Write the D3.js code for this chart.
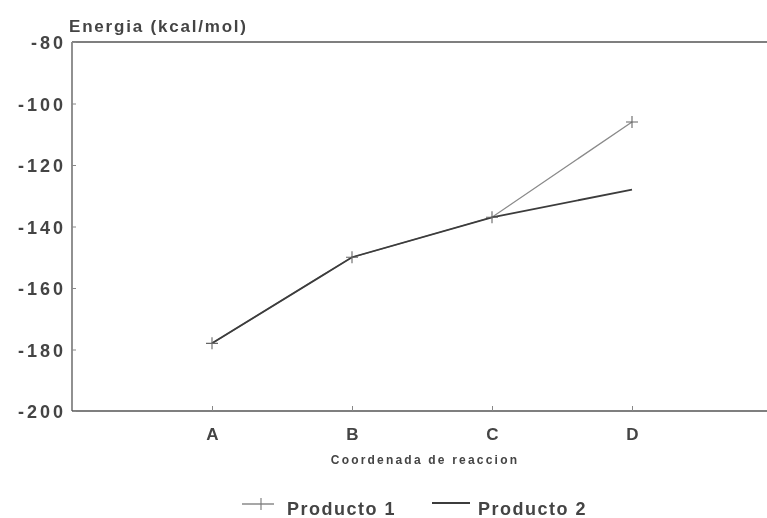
<!DOCTYPE html>
<html>
<head>
<meta charset="utf-8">
<script src="https://cdn.jsdelivr.net/npm/d3@7"></script>
<style>
  html, body { margin: 0; padding: 0; background: #fff; }
  svg { display: block; font-family: "Liberation Sans", Arial, sans-serif; }
</style>
</head>
<body>
<svg id="chart" width="767" height="518"></svg>
<script>
// Reaction coordinate stages and energies (kcal/mol)
const stages = ["A", "B", "C", "D"];
const producto1 = [-178, -150, -137, -106];
const producto2 = [-178, -150, -137, -128];
const yTicks = [-80, -100, -120, -140, -160, -180, -200];

const svg = d3.select("#chart");
const plotLeft = 72, plotTop = 42, plotBottom = 411, plotRight = 772;

const x = d3.scalePoint().domain(["", ...stages, " "]).range([plotLeft, plotRight]);
const y = d3.scaleLinear().domain([-200, -80]).range([plotBottom, plotTop]);

const g = svg.append("g").style("filter", "blur(0.35px)");
const ink = "#444";

// frame: left, top and bottom edges
g.append("line").attr("x1", plotLeft).attr("x2", plotLeft).attr("y1", plotTop).attr("y2", plotBottom)
  .attr("stroke", "#555").attr("stroke-width", 1.3);
g.append("line").attr("x1", plotLeft).attr("x2", plotRight).attr("y1", plotTop).attr("y2", plotTop)
  .attr("stroke", "#555").attr("stroke-width", 1.3);
g.append("line").attr("x1", plotLeft).attr("x2", plotRight).attr("y1", plotBottom).attr("y2", plotBottom)
  .attr("stroke", "#555").attr("stroke-width", 1.3);

// y axis ticks and labels (plain hyphen for negatives)
const yAxis = d3.axisLeft(y).tickValues(yTicks).tickSize(-4)
  .tickFormat(d => String(d));
const ya = g.append("g").attr("transform", `translate(${plotLeft},0)`).call(yAxis);
ya.select(".domain").remove();
ya.selectAll(".tick line").attr("stroke", "#888");
ya.selectAll(".tick text").attr("fill", ink).attr("font-size", 18)
  .attr("font-weight", "bold").attr("letter-spacing", 3)
  .attr("dy", "0.38em").attr("x", -6);

// x axis ticks and labels
const xAxis = d3.axisBottom(x).tickValues(stages).tickSize(-5);
const xa = g.append("g").attr("transform", `translate(0,${plotBottom})`).call(xAxis);
xa.select(".domain").remove();
xa.selectAll(".tick line").attr("stroke", "#888");
xa.selectAll(".tick text").attr("fill", ink).attr("font-size", 17)
  .attr("font-weight", "bold").attr("y", 29).attr("dy", 0);

// axis titles
g.append("text").attr("x", 69).attr("y", 32).attr("fill", ink)
  .attr("font-size", 17).attr("font-weight", "bold").attr("letter-spacing", 1.8)
  .text("Energia (kcal/mol)");
g.append("text").attr("x", 425).attr("y", 464).attr("text-anchor", "middle")
  .attr("fill", ink).attr("font-size", 12).attr("font-weight", "bold")
  .attr("letter-spacing", 2.2).text("Coordenada de reaccion");

// series lines
const line = d3.line().x((d, i) => x(stages[i])).y(d => y(d));
g.append("path").datum(producto1).attr("d", line).attr("fill", "none")
  .attr("stroke", "#8a8a8a").attr("stroke-width", 1.3);
g.append("path").datum(producto2).attr("d", line).attr("fill", "none")
  .attr("stroke", "#3c3c3c").attr("stroke-width", 1.8);

// plus markers for Producto 1
g.selectAll(".mk").data(producto1).join("path").attr("class", "mk")
  .attr("transform", (d, i) => `translate(${x(stages[i])},${y(d)})`)
  .attr("d", "M-6,0H6M0,-6V6").attr("stroke", "#666").attr("stroke-width", 1.1);

// legend
const lg = g.append("g");
lg.append("line").attr("x1", 242).attr("x2", 274).attr("y1", 504).attr("y2", 504)
  .attr("stroke", "#777").attr("stroke-width", 1.3);
lg.append("path").attr("d", "M261,498V510").attr("stroke", "#777").attr("stroke-width", 1.1);
lg.append("text").attr("x", 287).attr("y", 515).attr("fill", ink)
  .attr("font-size", 18).attr("font-weight", "bold").attr("letter-spacing", 1.5)
  .text("Producto 1");
lg.append("line").attr("x1", 432).attr("x2", 470).attr("y1", 503).attr("y2", 503)
  .attr("stroke", "#3c3c3c").attr("stroke-width", 1.8);
lg.append("text").attr("x", 478).attr("y", 515).attr("fill", ink)
  .attr("font-size", 18).attr("font-weight", "bold").attr("letter-spacing", 1.5)
  .text("Producto 2");
</script>
</body>
</html>
